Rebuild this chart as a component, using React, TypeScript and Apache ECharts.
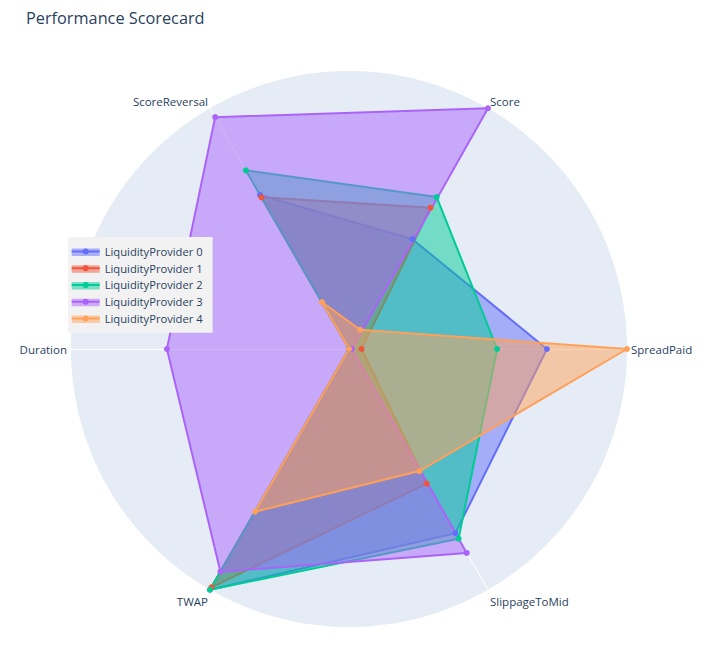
import { useEffect, useRef } from 'react';
import * as echarts from 'echarts';

// axis order as listed in the source chart
const metrics = ['Score', 'SpreadPaid', 'SlippageToMid', 'TWAP', 'Duration', 'ScoreReversal'];
// echarts radar goes counterclockwise from startAngle
const radarOrder = ['Score', 'ScoreReversal', 'Duration', 'TWAP', 'SlippageToMid', 'SpreadPaid'];

const providers = [
  'LiquidityProvider 0',
  'LiquidityProvider 1',
  'LiquidityProvider 2',
  'LiquidityProvider 3',
  'LiquidityProvider 4',
];

// values per metric, in `metrics` order
const lp0 = [0.456, 0.712, 0.765, 1.0, 0, 0.64];
const lp1 = [0.587, 0.045, 0.559, 0.99, 0, 0.63];
const lp2 = [0.631, 0.533, 0.788, 1.0, 0, 0.742];
const lp3 = [1.0, 0.01, 0.847, 0.925, 0.655, 0.963];
const lp4 = [0.08, 1.0, 0.507, 0.676, 0, 0.195];
const values = [lp0, lp1, lp2, lp3, lp4];

const colors = ['#636efa', '#EF553B', '#00cc96', '#ab63fa', '#FFA15A'];

const FONT = 'Open Sans';
const TEXT = '#2a3f5f';

const LEGEND_TOP = 237;
const ROW_H = 16.75;
const ROW0 = 251.5;

const upper = ['Score', 'ScoreReversal'];
const lower = ['TWAP', 'SlippageToMid'];

export default function App() {
  const chartRef = useRef<HTMLDivElement>(null);

  useEffect(() => {
    if (!chartRef.current) return;
    const chart = echarts.init(chartRef.current, undefined, { renderer: 'svg' });

    const toRadar = (row: number[]) => radarOrder.map(m => row[metrics.indexOf(m)]);

    // line + marker legend glyph
    const icon = 'path://M0,3H28V5H0Z M11,4A3,3 0 1,1 17,4A3,3 0 1,1 11,4Z';

    const nameStyle = { fontFamily: FONT, fontSize: 11.5, color: TEXT };

    chart.setOption({
      animation: false,
      backgroundColor: '#fff',
      title: {
        text: 'Performance Scorecard',
        left: 26,
        top: 10,
        padding: 0,
        textStyle: { fontFamily: FONT, fontSize: 16.3, fontWeight: 'normal', color: TEXT },
      },
      legend: {
        orient: 'vertical',
        left: 68,
        top: LEGEND_TOP,
        padding: [6, 10, 6, 3.7],
        itemGap: 0,
        itemWidth: 28,
        itemHeight: 6,
        icon,
        backgroundColor: '#f2f2f2',
        data: providers,
        selectedMode: false,
        textStyle: { fontFamily: FONT, fontSize: 11.2, color: TEXT, lineHeight: ROW_H },
      },
      radar: {
        center: [349, 349],
        radius: 278,
        startAngle: 60,
        shape: 'circle',
        splitNumber: 1,
        nameGap: 4,
        indicator: radarOrder.map(name => ({ name, min: 0, max: 1 })),
        axisName: {
          ...nameStyle,
          formatter: (name: string) =>
            upper.includes(name) ? `{up|${name}}` : lower.includes(name) ? `{down|${name}}` : name,
          rich: {
            up: { ...nameStyle, padding: [0, 0, 7, 0] },
            down: { ...nameStyle, padding: [16, 0, 0, 0] },
          },
        },
        axisLine: { lineStyle: { color: '#ffffff', width: 1 } },
        splitLine: { show: false },
        splitArea: { show: true, areaStyle: { color: ['#e5ecf6'] } },
        axisTick: { show: false },
        axisLabel: { show: false },
      },
      graphic: colors.map((c, i) => ({
        type: 'rect',
        z: 10,
        silent: true,
        shape: { x: 71.7, y: ROW0 + i * ROW_H - 3, width: 28, height: 7.5 },
        style: { fill: c, opacity: 0.5 },
      })),
      series: providers.map((name, i) => ({
        name,
        type: 'radar',
        color: colors[i],
        symbol: 'circle',
        symbolSize: 6,
        lineStyle: { width: 2, color: colors[i] },
        itemStyle: { color: colors[i] },
        areaStyle: { color: colors[i], opacity: 0.5 },
        emphasis: { disabled: true },
        data: [{ name, value: toRadar(values[i]) }],
      })),
    });

    return () => {
      chart.dispose();
    };
  }, []);

  return (
    <div
      ref={chartRef}
      style={{ position: 'fixed', left: 0, top: 0, width: 719, height: 649 }}
    />
  );
}
